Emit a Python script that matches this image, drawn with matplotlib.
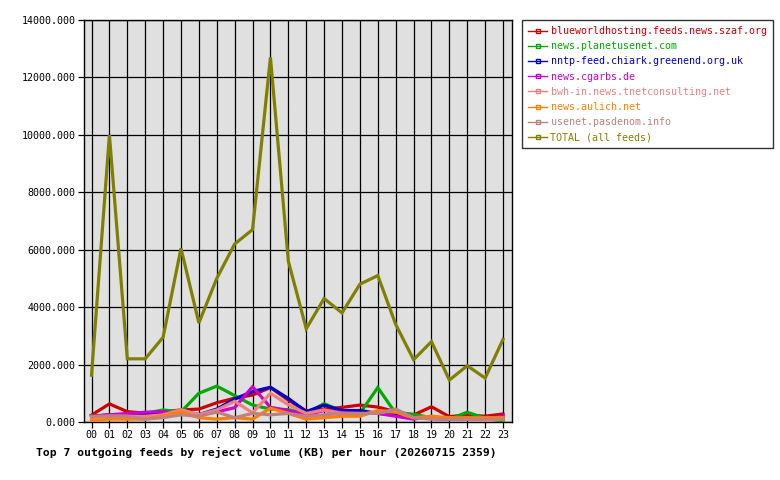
import matplotlib
matplotlib.use("Agg")
import matplotlib.pyplot as plt
from matplotlib.lines import Line2D

hours = ["%02d" % h for h in range(24)]

feed_names = [
    "blueworldhosting.feeds.news.szaf.org",
    "news.planetusenet.com",
    "nntp-feed.chiark.greenend.org.uk",
    "news.cgarbs.de",
    "bwh-in.news.tnetconsulting.net",
    "news.aulich.net",
    "usenet.pasdenom.info",
    "TOTAL (all feeds)",
]
feed_colors = ["#CC0000", "#00AA00", "#0000CC", "#CC00CC",
               "#F08080", "#FF8000", "#C08080", "#808000"]

szaf = [240, 630, 360, 310, 350, 420, 450, 670, 830, 940, 1200, 760,
        390, 450, 510, 590, 520, 360, 245, 530, 185, 245, 200, 280]
planetusenet = [200, 220, 250, 300, 420, 350, 1000, 1250, 920, 590, 450, 430,
                300, 640, 380, 300, 1200, 300, 270, 150, 100, 340, 130, 20]
chiark = [200, 250, 250, 280, 300, 320, 260, 450, 800, 1060, 1210, 820,
          360, 590, 400, 400, 300, 250, 150, 120, 100, 110, 100, 100]
cgarbs = [200, 250, 300, 340, 360, 300, 250, 350, 500, 1230, 510, 400,
          250, 400, 330, 300, 300, 200, 100, 200, 100, 150, 100, 200]
tnet = [150, 200, 200, 200, 250, 430, 260, 420, 720, 320, 1000, 600,
        300, 420, 300, 260, 360, 350, 150, 150, 100, 100, 60, 100]
aulich = [50, 100, 100, 100, 200, 350, 150, 100, 150, 100, 480, 300,
          100, 150, 200, 200, 400, 350, 150, 200, 150, 150, 150, 150]
pasdenom = [200, 210, 200, 100, 150, 250, 200, 350, 150, 300, 250, 300,
            200, 250, 300, 300, 300, 450, 150, 100, 100, 100, 100, 100]
total = [1630, 10000, 2200, 2200, 2950, 6050, 3450, 5000, 6200, 6700, 12700, 5600,
         3250, 4300, 3800, 4800, 5100, 3400, 2170, 2800, 1460, 1960, 1530, 2880]

series = [szaf, planetusenet, chiark, cgarbs, tnet, aulich, pasdenom, total]

plt.rcParams["font.family"] = ["DejaVu Sans Mono"]

fig = plt.figure(figsize=(7.8, 4.8), dpi=100)
ax = fig.add_axes([84 / 780, 58 / 480, 428 / 780, 402 / 480])
ax.set_facecolor("#E0E0E0")

x = list(range(len(hours)))
for vals, col in zip(series, feed_colors):
    ax.plot(x, vals, color=col, linewidth=2.3, solid_joinstyle="miter", zorder=3)

ax.set_xlim(-0.42, 23.5)
ax.set_ylim(0, 14000)
ax.set_xticks(x)
ax.set_xticklabels(hours, fontsize=7.2)
ax.set_yticks(range(0, 14001, 2000))
ax.set_yticklabels(["%d.000" % v for v in range(0, 14001, 2000)], fontsize=7.2)
ax.grid(True, color="black", linewidth=0.9, zorder=1)
ax.set_axisbelow(True)
ax.tick_params(length=4, width=0.9, color="black", pad=2)
for s in ax.spines.values():
    s.set_color("black")
    s.set_linewidth(1.0)

# title sits under the x axis, a bit left of the axes centre
fig.text(266 / 780, 1 - 452 / 480,
         "Top 7 outgoing feeds by reject volume (KB) per hour (20260715 2359)",
         fontsize=8.2, fontweight="bold", ha="center", va="center")

handles = [Line2D([0], [0], color=c, linewidth=1.0, marker="s", markersize=2.5,
                  markerfacecolor="none", markeredgecolor=c) for c in feed_colors]
leg = fig.legend(handles, feed_names, loc="upper left",
                 bbox_to_anchor=(522 / 780, 1 - 20 / 480), fontsize=7.2,
                 frameon=True, fancybox=False, handlelength=1.9, handletextpad=0.35,
                 labelspacing=0.52, borderpad=0.6, borderaxespad=0)
leg.get_frame().set_edgecolor("black")
leg.get_frame().set_linewidth(1.0)
for txt, c in zip(leg.get_texts(), feed_colors):
    txt.set_color(c)

fig.savefig("out.png", dpi=100)
